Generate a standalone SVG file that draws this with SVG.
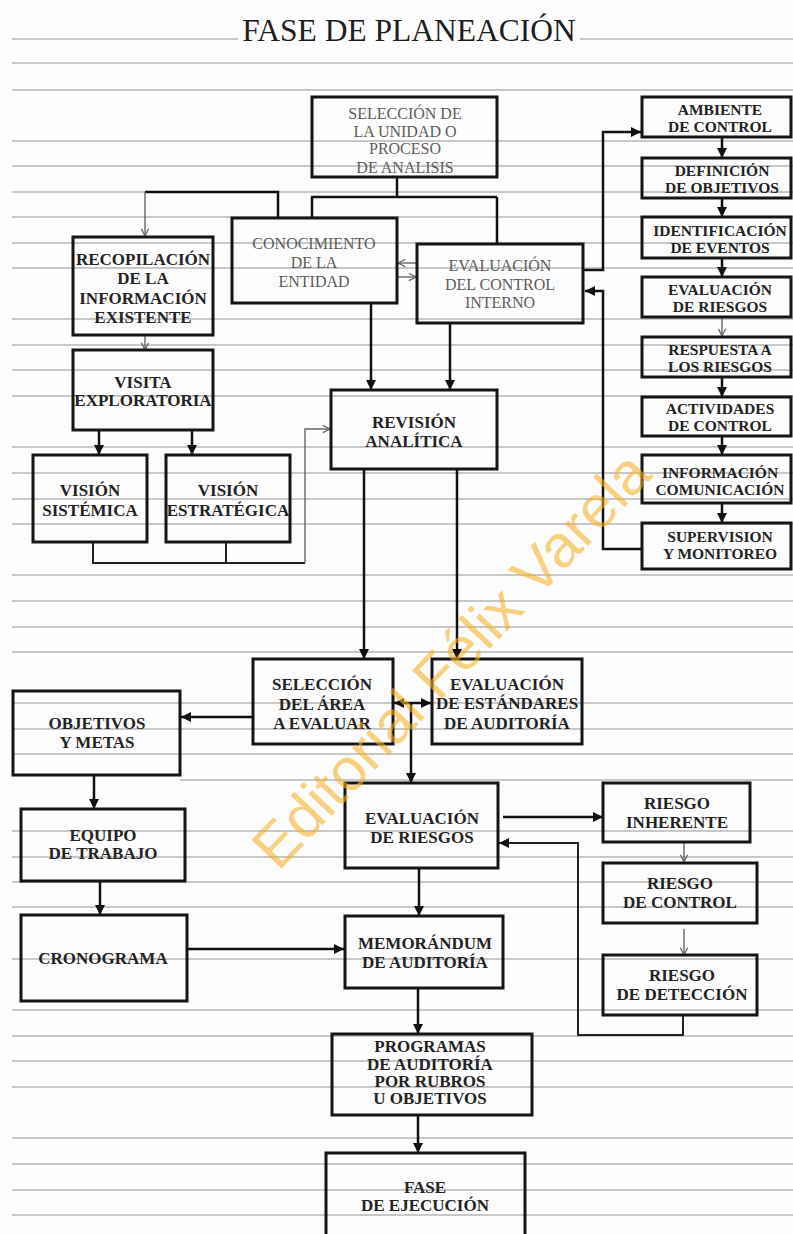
<svg xmlns="http://www.w3.org/2000/svg" width="793" height="1234" viewBox="0 0 793 1234">
  <defs>
    <style>
      .ln { stroke: #c8c8c8; stroke-width: 2; }
      .box { fill: none; stroke: #151515; stroke-width: 3; }
      .t { font-family: "Liberation Serif", "Times New Roman", serif; font-size: 17px; font-weight: bold; fill: #232323; text-anchor: middle; }
      .ts { font-size: 15.5px; }
      .tn { font-weight: normal; font-size: 16px; fill: #5c5c5c; }
      .c { fill: none; stroke: #111; stroke-width: 2.5; }
      .cm { fill: none; stroke: #222; stroke-width: 2; }
      .cg { fill: none; stroke: #666; stroke-width: 1.4; }
      .wm { font-family: "Liberation Sans", Arial, sans-serif; font-size: 60px; fill: #f3b225; opacity: 0.58; text-anchor: middle; }
    </style>
    <marker id="ah" viewBox="0 0 10 10" markerUnits="userSpaceOnUse" markerWidth="11" markerHeight="10" refX="10" refY="5" orient="auto-start-reverse">
      <path d="M0,0 L10,5 L0,10 z" fill="#111"/>
    </marker>
    <marker id="ahg" viewBox="0 0 10 10" markerUnits="userSpaceOnUse" markerWidth="9" markerHeight="9" refX="9" refY="5" orient="auto">
      <path d="M1,1 L9,5 L1,9" fill="none" stroke="#666" stroke-width="1.4"/>
    </marker>
  </defs>

  <rect width="793" height="1234" fill="#fdfdfd"/>

  <!-- ruled background -->
  <g id="rules">
    <line class="ln" x1="12" y1="39" x2="238" y2="39"/>
    <line class="ln" x1="580" y1="39" x2="793" y2="39"/>
    <line class="ln" x1="12" y1="63" x2="793" y2="63"/>
    <line class="ln" x1="12" y1="90" x2="793" y2="90"/>
    <line class="ln" x1="12" y1="141" x2="793" y2="141"/>
    <line class="ln" x1="12" y1="166" x2="793" y2="166"/>
    <line class="ln" x1="12" y1="192" x2="793" y2="192"/>
    <line class="ln" x1="12" y1="217" x2="793" y2="217"/>
    <line class="ln" x1="12" y1="243" x2="793" y2="243"/>
    <line class="ln" x1="12" y1="268" x2="793" y2="268"/>
    <line class="ln" x1="12" y1="319" x2="793" y2="319"/>
    <line class="ln" x1="12" y1="345" x2="793" y2="345"/>
    <line class="ln" x1="12" y1="370" x2="793" y2="370"/>
    <line class="ln" x1="12" y1="396" x2="793" y2="396"/>
    <line class="ln" x1="12" y1="447" x2="793" y2="447"/>
    <line class="ln" x1="12" y1="473" x2="793" y2="473"/>
    <line class="ln" x1="12" y1="499" x2="793" y2="499"/>
    <line class="ln" x1="12" y1="524" x2="793" y2="524"/>
    <line class="ln" x1="12" y1="575" x2="793" y2="575"/>
    <line class="ln" x1="12" y1="601" x2="793" y2="601"/>
    <line class="ln" x1="12" y1="627" x2="793" y2="627"/>
    <line class="ln" x1="12" y1="652" x2="793" y2="652"/>
    <line class="ln" x1="12" y1="703" x2="793" y2="703"/>
    <line class="ln" x1="12" y1="729" x2="793" y2="729"/>
    <line class="ln" x1="12" y1="754" x2="793" y2="754"/>
    <line class="ln" x1="180" y1="780" x2="793" y2="780"/>
    <line class="ln" x1="12" y1="831" x2="793" y2="831"/>
    <line class="ln" x1="12" y1="857" x2="793" y2="857"/>
    <line class="ln" x1="12" y1="882" x2="793" y2="882"/>
    <line class="ln" x1="12" y1="907" x2="793" y2="907"/>
    <line class="ln" x1="12" y1="959" x2="793" y2="959"/>
    <line class="ln" x1="12" y1="1010" x2="793" y2="1010"/>
    <line class="ln" x1="12" y1="1036" x2="793" y2="1036"/>
    <line class="ln" x1="12" y1="1061" x2="793" y2="1061"/>
    <line class="ln" x1="12" y1="1087" x2="793" y2="1087"/>
    <line class="ln" x1="12" y1="1138" x2="793" y2="1138"/>
    <line class="ln" x1="12" y1="1164" x2="793" y2="1164"/>
    <line class="ln" x1="12" y1="1190" x2="793" y2="1190"/>
    <line class="ln" x1="12" y1="1215" x2="793" y2="1215"/>
  </g>

  <text x="409" y="41" font-family="'Liberation Serif', 'Times New Roman', serif" font-size="31.5" fill="#1e1e1e" text-anchor="middle">FASE DE PLANEACIÓN</text>

  <!-- connectors -->
  <g id="connectors">
    <path class="c" d="M397,177 V197 M311,197 H497 M312,197 V218 M497,197 V244"/>
    <path class="c" d="M278,218 V192 H145"/>
    <path class="cg" d="M145,192 V236" marker-end="url(#ahg)"/>
    <path class="cg" d="M417,263 H398" marker-end="url(#ahg)"/>
    <path class="cg" d="M397,277 H416" marker-end="url(#ahg)"/>
    <path class="c" d="M583,270 H603 V132 H641" marker-end="url(#ah)"/>
    <path class="c" d="M642,549 H603 V291 H585" marker-end="url(#ah)"/>
    <path class="c" d="M722,137 V158" marker-end="url(#ah)"/>
    <path class="c" d="M722,198 V217" marker-end="url(#ah)"/>
    <path class="c" d="M722,258 V277" marker-end="url(#ah)"/>
    <path class="cg" d="M722,317 V336" marker-end="url(#ahg)"/>
    <path class="c" d="M722,377 V397" marker-end="url(#ah)"/>
    <path class="c" d="M722,436 V455" marker-end="url(#ah)"/>
    <path class="c" d="M722,503 V523" marker-end="url(#ah)"/>
    <path class="cg" d="M145,335 V350" marker-end="url(#ahg)"/>
    <path class="c" d="M99,430 V455" marker-end="url(#ah)"/>
    <path class="c" d="M192,430 V455" marker-end="url(#ah)"/>
    <path class="cm" d="M93,542 V563 H305 M226,542 V563"/>
    <path class="cg" d="M305,563 V429 H330" marker-end="url(#ahg)"/>
    <path class="c" d="M371,303 V390" marker-end="url(#ah)"/>
    <path class="c" d="M450,323 V390" marker-end="url(#ah)"/>
    <path class="c" d="M364,469 V659" marker-end="url(#ah)"/>
    <path class="c" d="M457,469 V659" marker-end="url(#ah)"/>
    <path class="c" d="M253,717 H181" marker-end="url(#ah)"/>
    <path class="c" d="M394,703 H431" marker-start="url(#ah)" marker-end="url(#ah)"/>
    <path class="c" d="M411,703 V783" marker-end="url(#ah)"/>
    <path class="c" d="M94,775 V809" marker-end="url(#ah)"/>
    <path class="c" d="M100,881 V915" marker-end="url(#ah)"/>
    <path class="c" d="M187,949 H344" marker-end="url(#ah)"/>
    <path class="c" d="M419,868 V916" marker-end="url(#ah)"/>
    <path class="c" d="M503,817 H603" marker-end="url(#ah)"/>
    <path class="cg" d="M684,842 V862" marker-end="url(#ahg)"/>
    <path class="cg" d="M684,929 V955" marker-end="url(#ahg)"/>
    <path class="cm" d="M683,1015 V1035 H578 V843 H499" marker-end="url(#ah)"/>
    <path class="c" d="M418,988 V1034" marker-end="url(#ah)"/>
    <path class="c" d="M418,1115 V1153" marker-end="url(#ah)"/>
  </g>

  <!-- nodes -->
  <g id="seleccion-unidad">
    <rect class="box" x="312" y="97" width="185" height="80"/>
    <text class="t tn"><tspan x="405" y="119">SELECCIÓN DE</tspan><tspan x="405" y="137">LA UNIDAD O</tspan><tspan x="405" y="154">PROCESO</tspan><tspan x="405" y="173">DE ANALISIS</tspan></text>
  </g>
  <g id="conocimiento">
    <rect class="box" x="232" y="218" width="165" height="85"/>
    <text class="t tn"><tspan x="314" y="249">CONOCIMIENTO</tspan><tspan x="314" y="268">DE LA</tspan><tspan x="314" y="287">ENTIDAD</tspan></text>
  </g>
  <g id="evaluacion-control">
    <rect class="box" x="417" y="244" width="166" height="79"/>
    <text class="t tn"><tspan x="500" y="271">EVALUACIÓN</tspan><tspan x="500" y="290">DEL CONTROL</tspan><tspan x="500" y="308">INTERNO</tspan></text>
  </g>

  <g id="ambiente">
    <rect class="box" x="642" y="97" width="149" height="40"/>
    <text class="t ts"><tspan x="720" y="115">AMBIENTE</tspan><tspan x="720" y="132">DE CONTROL</tspan></text>
  </g>
  <g id="definicion">
    <rect class="box" x="642" y="158" width="149" height="40"/>
    <text class="t ts"><tspan x="722" y="176">DEFINICIÓN</tspan><tspan x="722" y="193">DE OBJETIVOS</tspan></text>
  </g>
  <g id="identificacion">
    <rect class="box" x="642" y="217" width="149" height="41"/>
    <text class="t ts"><tspan x="720" y="235.5">IDENTIFICACIÓN</tspan><tspan x="720" y="252.5">DE EVENTOS</tspan></text>
  </g>
  <g id="evaluacion-riesgos-coso">
    <rect class="box" x="642" y="277" width="149" height="40"/>
    <text class="t ts"><tspan x="720" y="295">EVALUACIÓN</tspan><tspan x="720" y="312">DE RIESGOS</tspan></text>
  </g>
  <g id="respuesta">
    <rect class="box" x="642" y="337" width="149" height="40"/>
    <text class="t ts"><tspan x="720" y="354.5">RESPUESTA A</tspan><tspan x="720" y="371.5">LOS RIESGOS</tspan></text>
  </g>
  <g id="actividades">
    <rect class="box" x="642" y="397" width="149" height="39"/>
    <text class="t ts"><tspan x="720" y="414">ACTIVIDADES</tspan><tspan x="720" y="431">DE CONTROL</tspan></text>
  </g>
  <g id="informacion">
    <rect class="box" x="642" y="455" width="149" height="48"/>
    <text class="t ts"><tspan x="720" y="478">INFORMACIÓN</tspan><tspan x="720" y="495">COMUNICACIÓN</tspan></text>
  </g>
  <g id="supervision">
    <rect class="box" x="642" y="523" width="149" height="46"/>
    <text class="t ts"><tspan x="720" y="542">SUPERVISION</tspan><tspan x="720" y="559">Y MONITOREO</tspan></text>
  </g>

  <g id="recopilacion">
    <rect class="box" x="73" y="237" width="140" height="98"/>
    <text class="t"><tspan x="143" y="265">RECOPILACIÓN</tspan><tspan x="143" y="284">DE LA</tspan><tspan x="143" y="304">INFORMACIÓN</tspan><tspan x="143" y="322.5">EXISTENTE</tspan></text>
  </g>
  <g id="visita">
    <rect class="box" x="73" y="350" width="140" height="80"/>
    <text class="t"><tspan x="143" y="388">VISITA</tspan><tspan x="143" y="406">EXPLORATORIA</tspan></text>
  </g>
  <g id="vision-sistemica">
    <rect class="box" x="33" y="455" width="114" height="87"/>
    <text class="t"><tspan x="90" y="496">VISIÓN</tspan><tspan x="90" y="516">SISTÉMICA</tspan></text>
  </g>
  <g id="vision-estrategica">
    <rect class="box" x="166" y="455" width="124" height="87"/>
    <text class="t"><tspan x="228" y="496">VISIÓN</tspan><tspan x="228" y="516">ESTRATÉGICA</tspan></text>
  </g>
  <g id="revision-analitica">
    <rect class="box" x="331" y="390" width="166" height="79"/>
    <text class="t"><tspan x="414" y="427.5">REVISIÓN</tspan><tspan x="414" y="446.5">ANALÍTICA</tspan></text>
  </g>

  <g id="seleccion-area">
    <rect class="box" x="253" y="659" width="140" height="85"/>
    <text class="t"><tspan x="322" y="690">SELECCIÓN</tspan><tspan x="322" y="710">DEL ÁREA</tspan><tspan x="322" y="729">A EVALUAR</tspan></text>
  </g>
  <g id="estandares">
    <rect class="box" x="432" y="659" width="150" height="85"/>
    <text class="t"><tspan x="507" y="690">EVALUACIÓN</tspan><tspan x="507" y="709">DE ESTÁNDARES</tspan><tspan x="507" y="728.5">DE AUDITORÍA</tspan></text>
  </g>
  <g id="objetivos">
    <rect class="box" x="13" y="691" width="167" height="84"/>
    <text class="t"><tspan x="97" y="729">OBJETIVOS</tspan><tspan x="97" y="747.5">Y METAS</tspan></text>
  </g>
  <g id="equipo">
    <rect class="box" x="21" y="809" width="164" height="72"/>
    <text class="t"><tspan x="103" y="841">EQUIPO</tspan><tspan x="103" y="859">DE TRABAJO</tspan></text>
  </g>
  <g id="cronograma">
    <rect class="box" x="21" y="915" width="166" height="86"/>
    <text class="t" x="103" y="964">CRONOGRAMA</text>
  </g>
  <g id="evaluacion-riesgos">
    <rect class="box" x="345" y="783" width="153" height="85"/>
    <text class="t"><tspan x="422" y="824">EVALUACIÓN</tspan><tspan x="422" y="842.5">DE RIESGOS</tspan></text>
  </g>
  <g id="riesgo-inherente">
    <rect class="box" x="603" y="783" width="147" height="59"/>
    <text class="t"><tspan x="677" y="809">RIESGO</tspan><tspan x="677" y="827.5">INHERENTE</tspan></text>
  </g>
  <g id="riesgo-control">
    <rect class="box" x="603" y="863" width="154" height="60"/>
    <text class="t"><tspan x="680" y="889">RIESGO</tspan><tspan x="680" y="908">DE CONTROL</tspan></text>
  </g>
  <g id="riesgo-deteccion">
    <rect class="box" x="603" y="955" width="154" height="60"/>
    <text class="t"><tspan x="682" y="981">RIESGO</tspan><tspan x="682" y="1000">DE DETECCIÓN</tspan></text>
  </g>
  <g id="memorandum">
    <rect class="box" x="345" y="916" width="158" height="72"/>
    <text class="t"><tspan x="425" y="948.5">MEMORÁNDUM</tspan><tspan x="425" y="967.5">DE AUDITORÍA</tspan></text>
  </g>
  <g id="programas">
    <rect class="box" x="332" y="1034" width="200" height="81"/>
    <text class="t"><tspan x="430" y="1052">PROGRAMAS</tspan><tspan x="430" y="1070">DE AUDITORÍA</tspan><tspan x="430" y="1087">POR RUBROS</tspan><tspan x="430" y="1104">U OBJETIVOS</tspan></text>
  </g>
  <g id="fase-ejecucion">
    <rect class="box" x="326" y="1153" width="199" height="90"/>
    <text class="t"><tspan x="425" y="1192.5">FASE</tspan><tspan x="425" y="1211">DE EJECUCIÓN</tspan></text>
  </g>

  <!-- publisher mark -->
  <text class="wm" x="466" y="674" transform="rotate(-46.5 466 674)">Editorial Félix Varela</text>
</svg>
